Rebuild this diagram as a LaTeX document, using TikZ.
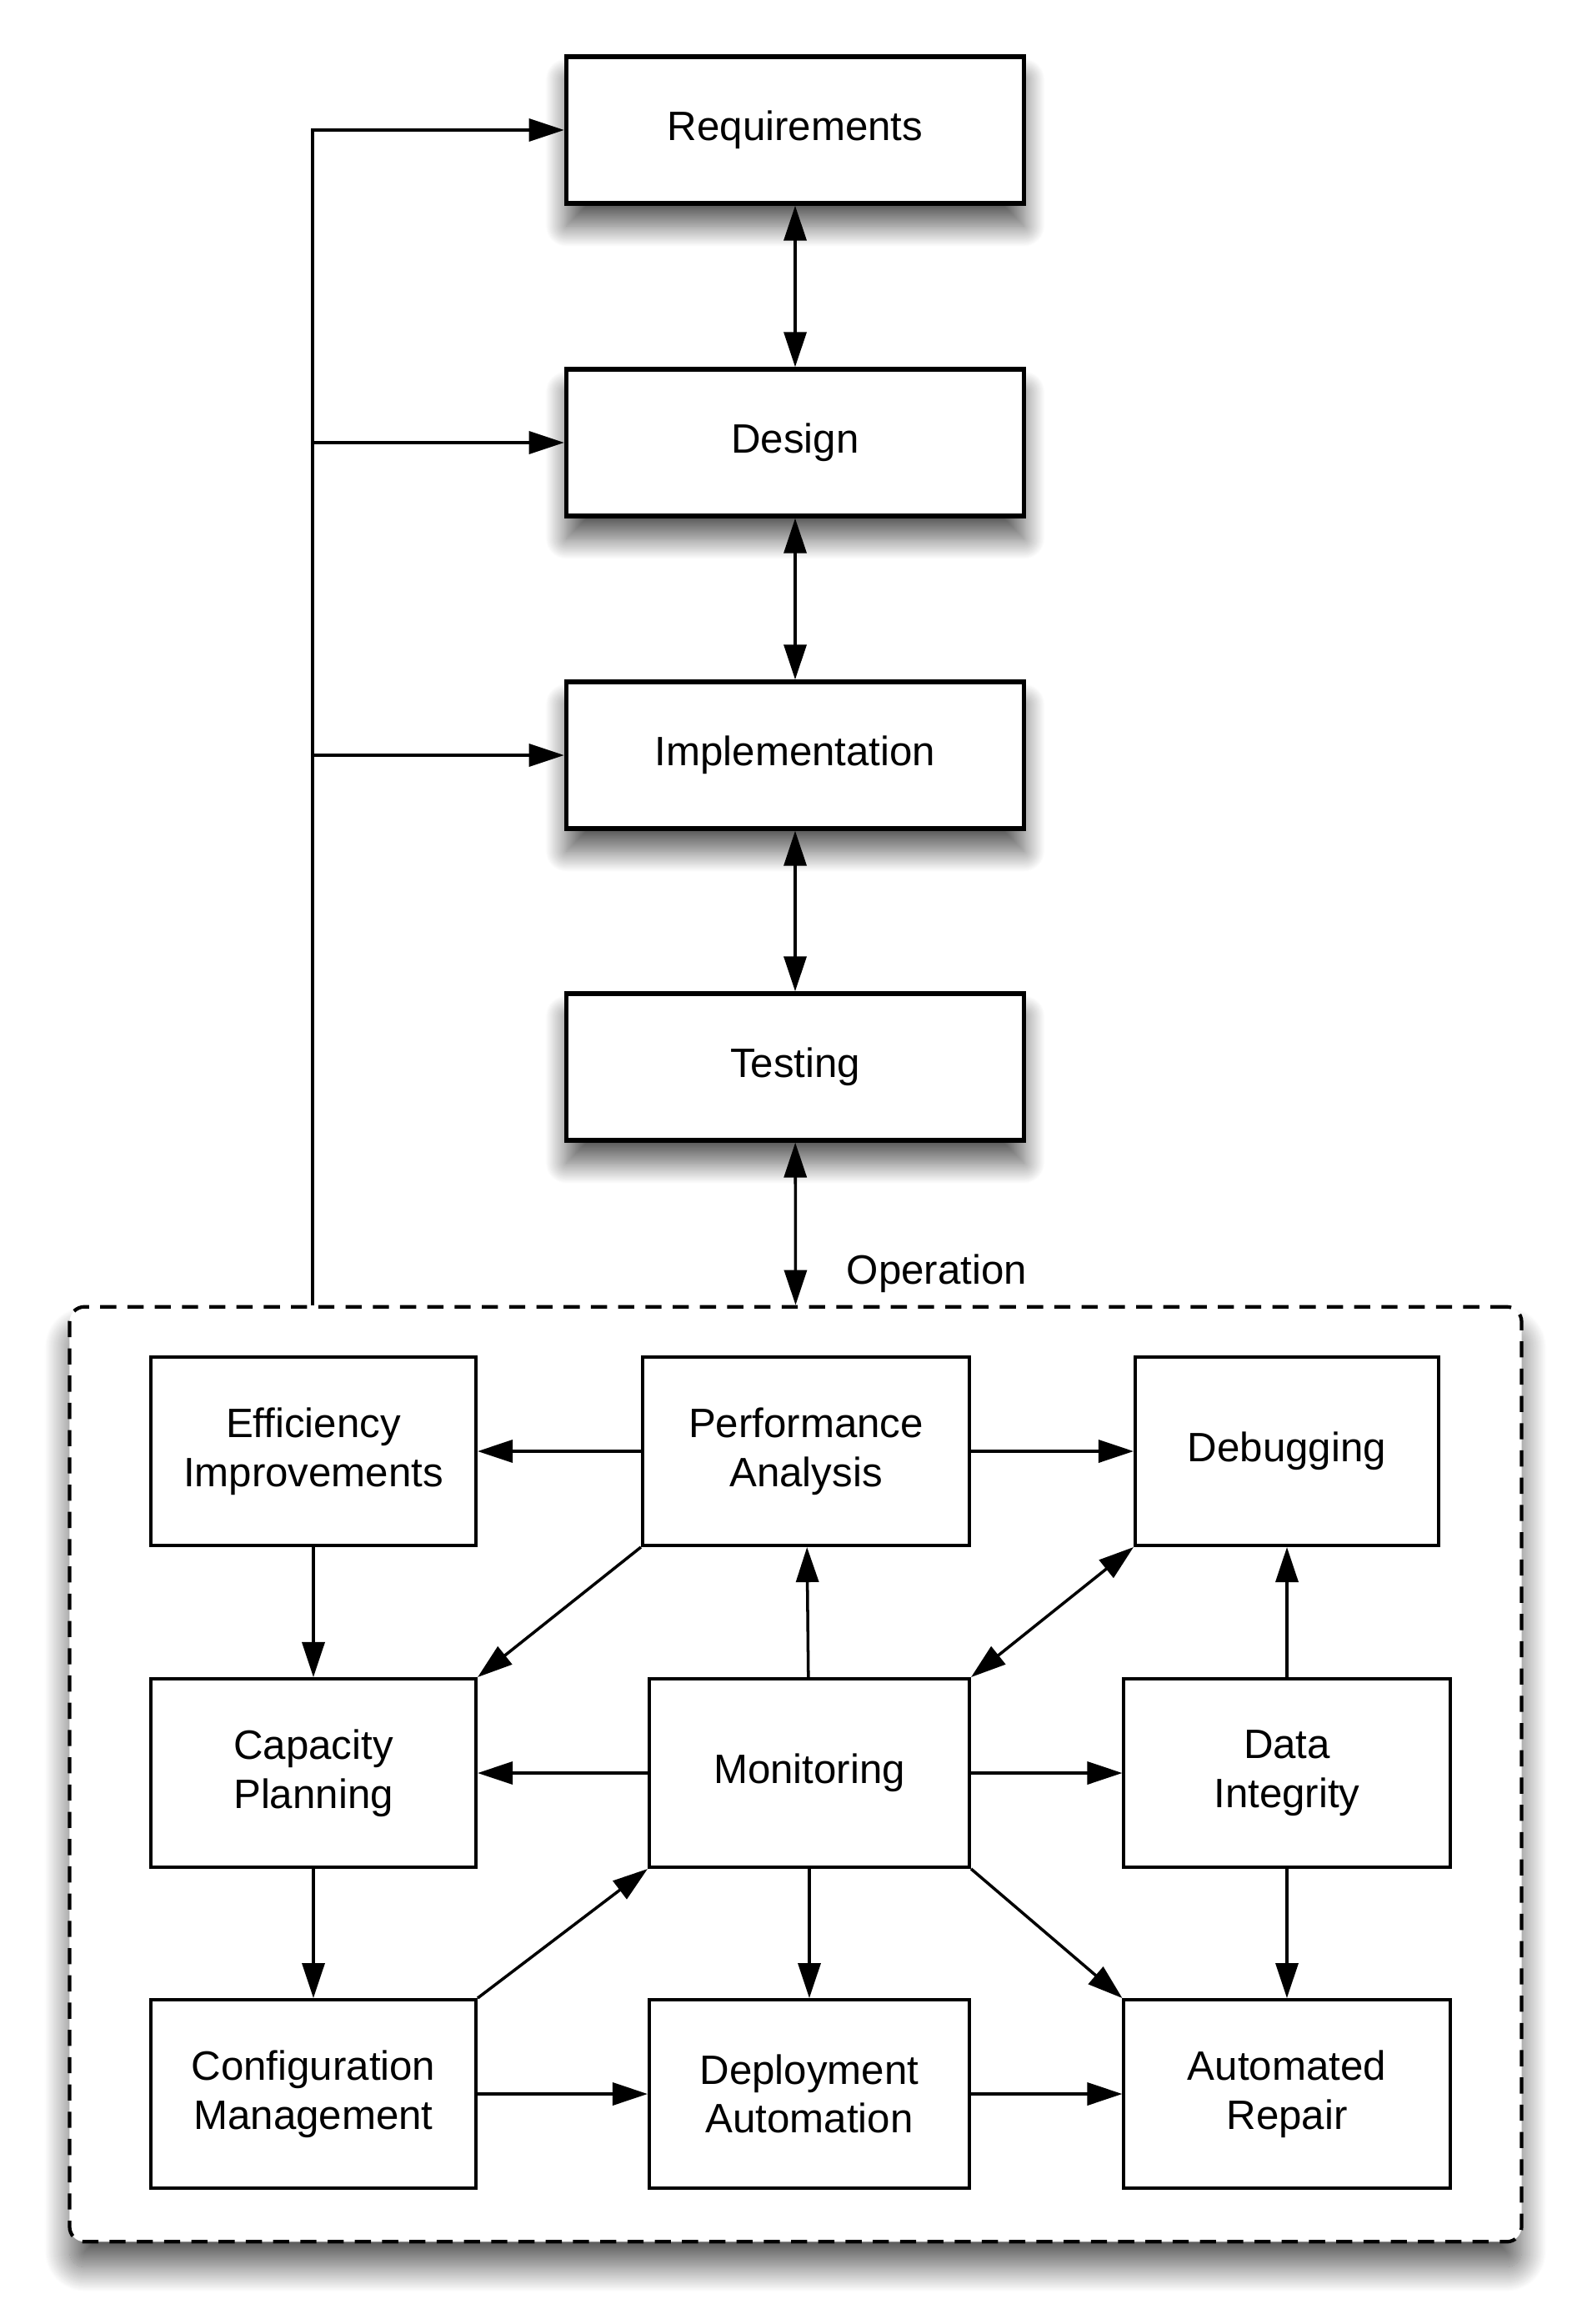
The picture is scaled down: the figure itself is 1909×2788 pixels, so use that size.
\documentclass[tikz,border=0pt]{standalone}
\usepackage{fontspec}
\setmainfont{Liberation Sans}
\usetikzlibrary{arrows.meta,shadows.blur}

\begin{document}
\begin{tikzpicture}[x=0.01cm, y=-0.01cm,
    every node/.style={font=\fontsize{14}{16.7}\selectfont, align=center},
    phase/.style={draw, line width=1.5pt, fill=white, minimum width=5.49cm, minimum height=1.76cm,
        blur shadow={shadow xshift=0pt, shadow yshift=-0.27cm, shadow blur radius=0.25cm,
            shadow opacity=65, shadow blur steps=30}},
    task/.style={draw, line width=1.1pt, fill=white, minimum width=3.9cm, minimum height=2.26cm},
    link/.style={line width=1pt},
    >={Triangle[length=4.2mm, width=2.7mm]}]
    \useasboundingbox (0,0) rectangle (1909,2788);

    % Phases
    \node[phase] (req) at (954,156) {Requirements};
    \node[phase] (design) at (954,531) {Design};
    \node[phase] (impl) at (954,906) {Implementation};
    \node[phase] (test) at (954,1280) {Testing};

    % Operation box
    \node[draw, dash pattern=on 5.5pt off 3.8pt, line width=1.2pt, rounded corners=0.18cm, fill=white,
        minimum width=17.41cm, minimum height=11.21cm,
        blur shadow={shadow xshift=0pt, shadow yshift=-0.3cm, shadow blur radius=0.3cm,
            shadow opacity=65, shadow blur steps=30}] (ops) at (954.5,2128.5) {};
    \node[anchor=base west, inner sep=0pt] (oplabel) at (1015,1540) {Operation};
    \coordinate (loop) at (375,0 |- ops.north);

    \node[task] (eff) at (376,1741) {Efficiency\\Improvements};
    \node[task, minimum width=3.92cm] (perf) at (967,1741) {Performance\\Analysis};
    \node[task, minimum width=3.64cm] (debug) at (1544,1741) {Debugging};

    \node[task] (cap) at (376,2127) {Capacity\\Planning};
    \node[task, minimum width=3.84cm] (mon) at (971,2127) {Monitoring};
    \node[task, minimum width=3.91cm] (data) at (1544,2127) {Data\\Integrity};

    \node[task] (conf) at (376,2512) {Configuration\\Management};
    \node[task, minimum width=3.84cm] (deploy) at (971,2512) {Deployment\\Automation};
    \node[task, minimum width=3.91cm] (repair) at (1544,2512) {Automated\\Repair};

    % Arrows
    \draw[link, <->] (req) -- (design);
    \draw[link, <->] (design) -- (impl);
    \draw[link, <->] (impl) -- (test);
    \draw[link, <->] (test) -- (ops.north);
    \draw[link, ->] (loop) |- (req);
    \draw[link, ->] (design.west -| loop) -- (design);
    \draw[link, ->] (impl.west -| loop) -- (impl);

    \draw[link, ->] (perf) -- (eff);
    \draw[link, ->] (perf) -- (debug);
    \draw[link, ->] (eff) -- (cap);
    \draw[link, ->] (perf.south west) -- (cap.north east);
    \draw[link, ->] (mon) -- (perf);
    \draw[link, <->] (mon.north east) -- (debug.south west);
    \draw[link, ->] (data) -- (debug);
    \draw[link, ->] (mon) -- (cap);
    \draw[link, ->] (mon) -- (data);
    \draw[link, ->] (cap) -- (conf);
    \draw[link, ->] (conf.north east) -- (mon.south west);
    \draw[link, ->] (mon) -- (deploy);
    \draw[link, ->] (mon.south east) -- (repair.north west);
    \draw[link, ->] (data) -- (repair);
    \draw[link, ->] (conf) -- (deploy);
    \draw[link, ->] (deploy) -- (repair);

\end{tikzpicture}
\end{document}
